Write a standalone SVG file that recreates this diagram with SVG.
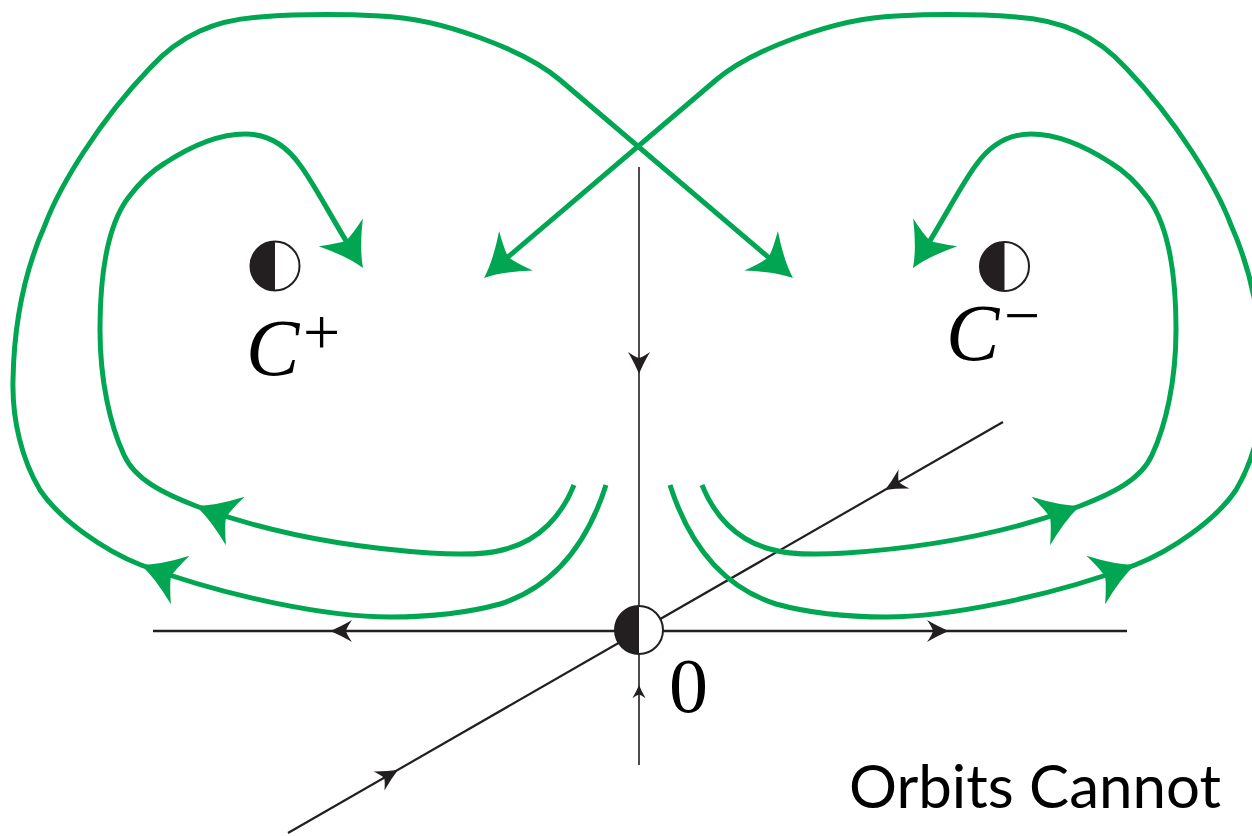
<svg xmlns="http://www.w3.org/2000/svg" width="1252" height="836" viewBox="0 0 1252 836">
<defs>
<style>
.g{fill:none;stroke:#00a651;stroke-width:5}
.gh{fill:#00a651}
.k{fill:none;stroke:#231f20}
.kh{fill:#231f20}
.pt{fill:#fff;stroke:#231f20;stroke-width:2}
.half{fill:#231f20}
.math{font-family:"Liberation Serif","Times New Roman",serif;fill:#000}
.cap{font-family:Lato,"Open Sans",sans-serif;font-size:60px;fill:#000}
</style>
<path id="ga" d="M0,0 Q-18,-7 -42,-26 Q-34,-9 -32,0 Q-34,9 -42,26 Q-18,7 0,0Z"/>
<path id="ka" d="M0,0 Q-10,-4 -22,-11 Q-17,-4 -16,0 Q-17,4 -22,11 Q-10,4 0,0Z"/>
</defs>
<rect width="1252" height="836" fill="#fff"/>

<g id="connectors">
  <!-- black invariant lines -->
  <line class="k" x1="153" y1="631" x2="1127" y2="631" stroke-width="2.5"/>
  <line class="k" x1="639" y1="167" x2="639" y2="765" stroke-width="1.6"/>
  <line class="k" x1="288" y1="833" x2="1003" y2="422" stroke-width="2.2"/>
  <use href="#ka" class="kh" transform="translate(330,631) rotate(180)"/>
  <use href="#ka" class="kh" transform="translate(949,631)"/>
  <use href="#ka" class="kh" transform="translate(639,374) rotate(90)"/>
  <use href="#ka" class="kh" transform="translate(639,685) rotate(-90) scale(0.6)"/>
  <use href="#ka" class="kh" transform="translate(885,490) rotate(150.1)"/>
  <use href="#ka" class="kh" transform="translate(398,770) rotate(-29.9)"/>

  <!-- green orbits -->
  <path id="outer-left" class="g" d="M606,485 C590,535 560,585 500,604 C460,615 420,617 390,617 C330,617 230,598 141,565 C105,551 60,520 40,490 C22,460 12,420 13,380 C14,320 25,270 45,225 C60,185 100,120 150,68 C180,35 215,20 260,17 C300,14 340,14 380,16 C440,18 525,50 560,80 L781,268"/>
  <path id="outer-right" class="g" d="M670,485 C686,535 716,585 776,604 C816,615 856,617 886,617 C946,617 1046,598 1135,565 C1171,551 1216,520 1236,490 C1254,460 1264,420 1263,380 C1262,320 1251,270 1231,225 C1216,185 1176,120 1126,68 C1096,35 1061,20 1016,17 C976,14 936,14 896,16 C836,18 751,50 716,80 L495,268"/>
  <path id="inner-left" class="g" d="M574,485 C562,515 540,540 506,549 C490,554 460,555 430,553 C340,547 260,530 196,506 C165,494 135,480 124,455 C110,425 100,380 100,330 C100,270 108,225 128,198 C140,182 150,172 165,163 C185,150 215,134 245,134 C270,134 288,148 300,165 C313,182 330,215 354,254"/>
  <path id="inner-right" class="g" d="M702,485 C714,515 736,540 770,549 C786,554 816,555 846,553 C936,547 1016,530 1080,506 C1111,494 1141,480 1152,455 C1166,425 1176,380 1176,330 C1176,270 1168,225 1148,198 C1136,182 1126,172 1111,163 C1091,150 1061,134 1031,134 C1006,134 988,148 976,165 C963,182 946,215 922,254"/>
  <use href="#ga" class="gh" transform="translate(141,565) rotate(201)"/>
  <use href="#ga" class="gh" transform="translate(196,506) rotate(201)"/>
  <use href="#ga" class="gh" transform="translate(1135,565) rotate(-21)"/>
  <use href="#ga" class="gh" transform="translate(1080,506) rotate(-21)"/>
  <use href="#ga" class="gh" transform="translate(363,268) rotate(58)"/>
  <use href="#ga" class="gh" transform="translate(913,268) rotate(122)"/>
  <use href="#ga" class="gh" transform="translate(484,278) rotate(139.6)"/>
  <use href="#ga" class="gh" transform="translate(793,278) rotate(40.4)"/>
</g>

<g id="node-Cplus">
  <circle class="pt" cx="275" cy="266" r="24.5"/>
  <path class="half" d="M275,241.5 A24.5,24.5 0 0 0 275,290.5 Z"/>
  <text class="math" x="246" y="375" font-size="80" font-style="italic">C</text>
  <text class="math" x="303" y="354" font-size="66">+</text>
</g>

<g id="node-Cminus">
  <circle class="pt" cx="1004.5" cy="266.5" r="24.5"/>
  <path class="half" d="M1004.5,242 A24.5,24.5 0 0 0 1004.5,291 Z"/>
  <text class="math" x="946" y="360" font-size="80" font-style="italic">C</text>
  <text class="math" x="1004" y="337" font-size="64">−</text>
</g>

<g id="node-origin">
  <circle class="pt" cx="639" cy="630" r="24"/>
  <path class="half" d="M639,606 A24,24 0 0 0 639,654 Z"/>
  <text class="math" x="669" y="712" font-size="78">0</text>
</g>

<g id="caption">
  <text class="cap" x="849" y="808">Orbits Cannot</text>
</g>
</svg>
